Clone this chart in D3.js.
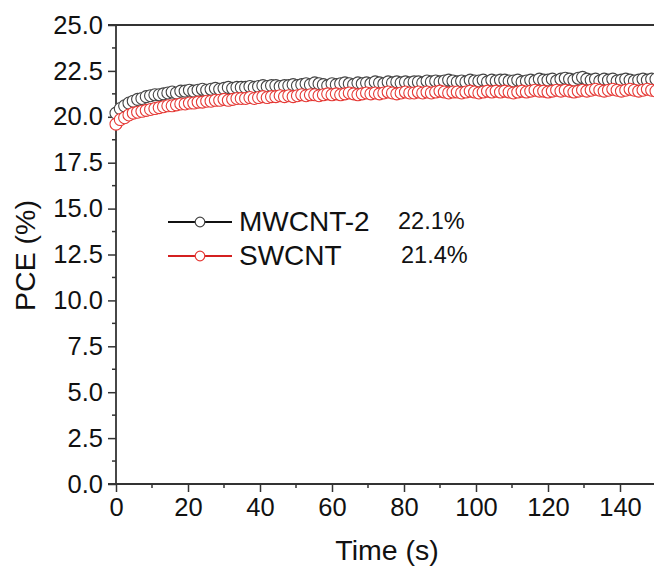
<!DOCTYPE html>
<html><head><meta charset="utf-8">
<script src="https://cdn.jsdelivr.net/npm/d3@7"></script>
<style>html,body{margin:0;padding:0;background:#fff}svg{display:block}</style>
</head><body>
<svg id="chart" width="654" height="570"></svg>
<script>
const seriesNames = ["MWCNT-2", "SWCNT"];
const seriesPCE = ["22.1%", "21.4%"];
const xTicks = [0, 20, 40, 60, 80, 100, 120, 140];
const yTicks = [0, 2.5, 5, 7.5, 10, 12.5, 15, 17.5, 20, 22.5, 25];
const mwcnt = [
20.2,20.45,20.6,20.75,20.85,20.95,21.0,21.1,21.15,21.2,
21.2,21.25,21.3,21.35,21.3,21.4,21.4,21.45,21.4,21.45,
21.5,21.45,21.5,21.55,21.5,21.55,21.6,21.55,21.6,21.6,
21.6,21.65,21.6,21.65,21.7,21.65,21.7,21.7,21.65,21.7,
21.7,21.75,21.7,21.75,21.8,21.75,21.85,21.8,21.75,21.7,
21.8,21.75,21.8,21.85,21.8,21.75,21.85,21.8,21.85,21.8,
21.9,21.85,21.8,21.9,21.85,21.9,21.85,21.9,21.85,21.9,
21.9,21.85,21.95,21.9,21.95,21.9,21.95,22.0,21.95,21.9,
21.95,21.9,22.0,21.95,21.95,22.0,21.9,22.0,21.95,22.0,
22.0,21.95,21.95,22.0,21.9,21.95,22.0,21.95,22.05,22.0,
22.0,22.05,21.95,22.05,22.1,22.05,22.0,22.1,22.15,22.05,
22.0,22.05,21.95,22.05,22.0,22.05,21.95,22.0,22.05,22.0,
21.95,22.0,22.05,22.0,22.05,22.05];
const swcnt = [
19.6,19.85,19.95,20.1,20.2,20.25,20.3,20.35,20.4,20.45,
20.5,20.55,20.6,20.6,20.65,20.7,20.7,20.75,20.75,20.8,
20.8,20.85,20.85,20.9,20.9,20.95,20.9,20.95,21.0,21.0,
21.0,21.05,21.0,21.05,21.1,21.05,21.1,21.1,21.15,21.1,
21.15,21.1,21.15,21.2,21.15,21.2,21.2,21.15,21.2,21.25,
21.2,21.25,21.2,21.25,21.3,21.25,21.2,21.25,21.3,21.25,
21.3,21.25,21.3,21.35,21.3,21.25,21.3,21.35,21.3,21.3,
21.35,21.3,21.35,21.3,21.35,21.4,21.35,21.3,21.35,21.35,
21.3,21.35,21.4,21.35,21.3,21.35,21.4,21.35,21.4,21.35,
21.4,21.35,21.3,21.35,21.4,21.35,21.4,21.45,21.4,21.4,
21.35,21.4,21.45,21.4,21.45,21.4,21.35,21.4,21.45,21.4,
21.45,21.5,21.45,21.4,21.45,21.5,21.45,21.4,21.45,21.5,
21.45,21.4,21.45,21.5,21.45,21.4];
const timeStep = 1.2; // seconds between measurements

const svg = d3.select("#chart");
const font = "Liberation Sans, Arial, sans-serif";
const axisColor = "#333";
const x = d3.scaleLinear().domain([0, 150]).range([116, 656]);
const y = d3.scaleLinear().domain([0, 25]).range([484, 25]);

// top frame line
svg.append("line").attr("x1", 108).attr("x2", 654).attr("y1", y(25)).attr("y2", y(25))
  .attr("stroke", axisColor).attr("stroke-width", 1.8);

// y axis
const yAxis = d3.axisLeft(y).tickValues(yTicks).tickSize(8).tickPadding(5)
  .tickFormat(d3.format(".1f"));
const gy = svg.append("g").attr("transform", `translate(${x(0)},0)`).call(yAxis);
const yMinor = d3.range(1.25, 25, 2.5);
gy.selectAll(".minor").data(yMinor).enter().append("line").attr("class", "minor")
  .attr("x1", 0).attr("x2", -4).attr("y1", d => y(d)).attr("y2", d => y(d))
  .attr("stroke", axisColor).attr("stroke-width", 1.5);

// x axis
const xAxis = d3.axisBottom(x).tickValues(xTicks).tickSize(8).tickPadding(6);
const gx = svg.append("g").attr("transform", `translate(0,${y(0)})`).call(xAxis);
const xMinor = d3.range(10, 150, 20);
gx.selectAll(".minor").data(xMinor).enter().append("line").attr("class", "minor")
  .attr("x1", d => x(d)).attr("x2", d => x(d)).attr("y1", 0).attr("y2", 4)
  .attr("stroke", axisColor).attr("stroke-width", 1.5);

[gx, gy].forEach(g => {
  g.select(".domain").attr("stroke", axisColor).attr("stroke-width", 1.8);
  g.selectAll(".tick line").attr("stroke", axisColor).attr("stroke-width", 1.5);
  g.selectAll(".tick text").attr("fill", "#111").style("font-family", font).style("font-size", "25.5px");
});
gx.select(".domain").attr("d", `M108,0H654`);
gy.select(".domain").attr("d", `M0,${y(0)}V${y(25)}`);

// axis titles
svg.append("text").attr("x", x(75) + 1).attr("y", 560).attr("text-anchor", "middle")
  .style("font-family", font).style("font-size", "28.5px").attr("fill", "#111").text("Time (s)");
svg.append("text").attr("transform", `translate(35,${y(12.5) + 1}) rotate(-90)`).attr("text-anchor", "middle")
  .style("font-family", font).style("font-size", "28.5px").attr("fill", "#111").text("PCE (%)");

// series
const series = [
  { name: seriesNames[0], pce: seriesPCE[0], values: mwcnt, stroke: "#444", line: "#111" },
  { name: seriesNames[1], pce: seriesPCE[1], values: swcnt, stroke: "#e53935", line: "#d42020" }
];
series.forEach(s => {
  const g = svg.append("g");
  g.selectAll("circle").data(s.values).enter().append("circle")
    .attr("cx", (d, i) => x(i * timeStep)).attr("cy", d => y(d)).attr("r", 6)
    .attr("fill", "#fff").attr("stroke", s.stroke).attr("stroke-width", 1.1);
});

// legend
series.forEach((s, i) => {
  const ly = 222 + i * 34;
  svg.append("line").attr("x1", 168).attr("x2", 232).attr("y1", ly).attr("y2", ly)
    .attr("stroke", s.line).attr("stroke-width", 2);
  svg.append("circle").attr("cx", 200).attr("cy", ly).attr("r", 4.8)
    .attr("fill", "#fff").attr("stroke", s.stroke).attr("stroke-width", 1.2);
  svg.append("text").attr("x", 239).attr("y", ly + 9).style("font-family", font)
    .style("font-size", "28px").attr("fill", "#111").text(s.name);
  svg.append("text").attr("x", 398 + i * 3).attr("y", ly + 7).style("font-family", font)
    .style("font-size", "23.5px").attr("fill", "#111").text(s.pce);
});
</script>
</body></html>
